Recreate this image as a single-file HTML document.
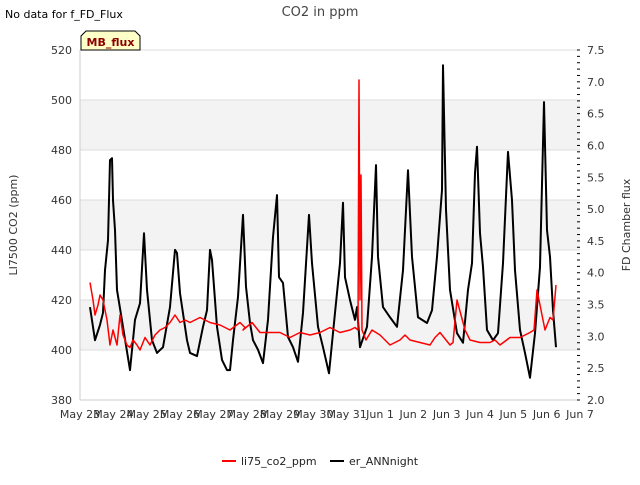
<!DOCTYPE html>
<html><head><meta charset="utf-8"><style>
body{margin:0;background:#fff;font-family:"Liberation Sans","DejaVu Sans",sans-serif}
svg text{font-family:"DejaVu Sans","Liberation Sans",sans-serif}
</style></head><body>
<svg id="chart" width="640" height="480" viewBox="0 0 640 480" xmlns="http://www.w3.org/2000/svg">
<text x="5" y="18" font-size="11" fill="#000">No data for f_FD_Flux</text>
<text x="320" y="16" font-size="13" fill="#444" text-anchor="middle">CO2 in ppm</text>
<g id="grid"></g>
<g id="axes"></g>
<g id="series"></g>
<g>
<path d="M81,50 L81,36 L86,31 L135,31 L140,36 L140,50 Z" fill="#ffffc8" stroke="#000" stroke-width="1"/>
<text x="110.5" y="46" font-size="11" font-weight="bold" fill="#8b0000" text-anchor="middle">MB_flux</text>
</g>
<text transform="translate(17,225) rotate(-90)" font-size="11" fill="#333" text-anchor="middle">LI7500 CO2 (ppm)</text>
<text transform="translate(630,225) rotate(-90)" font-size="11" fill="#333" text-anchor="middle">FD Chamber flux</text>
<g>
<g><line x1="222" y1="461" x2="236" y2="461" stroke="#f00" stroke-width="2"/><text x="241" y="465" font-size="11" fill="#222">li75_co2_ppm</text></g>
<g><line x1="330" y1="461" x2="344" y2="461" stroke="#000" stroke-width="2"/><text x="349" y="465" font-size="11" fill="#222">er_ANNnight</text></g>
</g>
</svg>
<script>
const xTickLabels=["May 23","May 24","May 25","May 26","May 27","May 28","May 29","May 30","May 31","Jun 1","Jun 2","Jun 3","Jun 4","Jun 5","Jun 6","Jun 7"];
const leftTicks=[380,400,420,440,460,480,500,520];
const rightTicks=[2.0,2.5,3.0,3.5,4.0,4.5,5.0,5.5,6.0,6.5,7.0,7.5];
const redT=[0.3,0.39,0.45,0.54,0.6,0.69,0.81,0.9,0.99,1.11,1.2,1.29,1.41,1.5,1.59,1.71,1.8,1.95,2.1,2.25,2.4,2.55,2.7,2.85,3.0,3.15,3.3,3.6,3.9,4.2,4.5,4.8,4.95,4.89,5.16,5.4,5.7,6.0,6.3,6.6,6.9,7.2,7.5,7.8,8.1,8.25,8.34,8.37,8.4,8.43,8.46,8.58,8.76,9.0,9.3,9.6,9.75,9.9,10.2,10.5,10.65,10.8,11.1,11.19,11.31,11.55,11.7,12.0,12.3,12.45,12.6,12.9,13.2,13.5,13.62,13.71,13.95,14.1,14.19,14.28];
const redV=[427,420,414,418,422,420,412,402,408,402,414,406,402,401,404,402,400,405,402,406,408,409,411,414,411,412,411,413,411,410,408,411,409,408,411,407,407,407,405,407,406,407,409,407,408,409,408,508,420,470,408,404,408,406,402,404,406,404,403,402,405,407,402,403,420,408,404,403,403,404,402,405,405,407,408,424,408,413,412,426,424];
const blackT=[0.3,0.45,0.6,0.69,0.75,0.84,0.9,0.96,0.99,1.05,1.11,1.29,1.5,1.65,1.8,1.92,2.01,2.16,2.31,2.49,2.7,2.85,2.91,3.0,3.21,3.3,3.51,3.69,3.81,3.9,3.96,4.11,4.26,4.41,4.5,4.59,4.74,4.89,4.98,5.1,5.19,5.34,5.49,5.64,5.79,5.91,5.97,6.09,6.24,6.39,6.54,6.69,6.87,6.96,7.14,7.29,7.47,7.65,7.8,7.89,7.95,8.1,8.25,8.31,8.4,8.61,8.76,8.88,8.94,9.09,9.3,9.51,9.69,9.84,9.96,10.14,10.41,10.56,10.71,10.86,10.89,10.98,11.1,11.31,11.49,11.64,11.76,11.85,11.91,12.0,12.09,12.21,12.39,12.54,12.69,12.84,12.96,13.05,13.2,13.35,13.5,13.65,13.8,13.92,14.01,14.1,14.19,14.28];
const blackV=[3.46,2.94,3.18,3.37,4.04,4.51,5.77,5.8,5.14,4.67,3.73,3.15,2.47,3.26,3.52,4.62,3.73,2.94,2.74,2.83,3.46,4.36,4.31,3.68,2.94,2.74,2.69,3.15,3.41,4.36,4.2,3.15,2.63,2.47,2.47,2.94,3.62,4.91,3.78,3.21,2.94,2.79,2.58,3.26,4.56,5.22,3.93,3.84,2.99,2.83,2.6,3.37,4.91,4.15,3.15,2.83,2.42,3.37,4.15,5.1,3.93,3.57,3.26,3.46,2.83,3.15,4.25,5.69,4.25,3.46,3.3,3.15,4.04,5.61,4.25,3.3,3.21,3.41,4.25,5.3,7.26,4.99,3.73,3.05,2.9,3.73,4.15,5.57,5.98,4.62,4.09,3.1,2.94,3.05,4.15,5.9,5.14,4.04,3.1,2.74,2.35,3.05,4.09,6.68,4.67,4.25,3.41,2.83];
const X0=80,X1=580,Y0=400,Y1=50;
const xS=t=>X0+t*(X1-X0)/15;
const yL=v=>Y0-(v-380)*(Y0-Y1)/140;
const yR=v=>Y0-(v-2)*(Y0-Y1)/5.5;
const NS="http://www.w3.org/2000/svg";
function mk(tag,attrs,parent){const e=document.createElementNS(NS,tag);for(const k in attrs)e.setAttribute(k,attrs[k]);parent.appendChild(e);return e;}
const grid=document.getElementById('grid'),axes=document.getElementById('axes'),series=document.getElementById('series');
for(let i=0;i<leftTicks.length-1;i++){
  if(i%2===1){const r=mk('rect',{x:X0,y:yL(leftTicks[i+1]),width:X1-X0,height:yL(leftTicks[i])-yL(leftTicks[i+1]),fill:'#f3f3f3'},grid);
  
  }
}
leftTicks.forEach(v=>{const l=mk('line',{x1:X0,x2:X1,y1:yL(v),y2:yL(v),stroke:'#dedede','stroke-width':1},grid);


const t=mk('text',{x:72,y:yL(v)+4,'font-size':11,fill:'#333','text-anchor':'end'},axes);t.textContent=v;

});
mk('line',{x1:X0,x2:X0,y1:Y1,y2:Y0,stroke:'#ccc'},axes);
mk('line',{x1:X0,x2:X1,y1:Y0,y2:Y0,stroke:'#ccc'},axes);
xTickLabels.forEach((s,i)=>{const t=mk('text',{x:xS(i),y:418,'font-size':11,fill:'#333','text-anchor':'middle'},axes);t.textContent=s;

});
for(let k=0;k<=55;k++){const v=2+k*0.1;const y=yR(v);mk('line',{x1:X1-3,x2:X1,y1:y,y2:y,stroke:'#000'},axes);}
rightTicks.forEach(v=>{const t=mk('text',{x:587,y:yR(v)+4,'font-size':11,fill:'#333'},axes);t.textContent=v.toFixed(1);

});
const bp=mk('polyline',{points:blackT.map((t,i)=>xS(t)+','+yR(blackV[i])).join(' '),fill:'none',stroke:'#000','stroke-width':2,'stroke-linejoin':'round'},series);


const rp=mk('polyline',{points:redT.map((t,i)=>xS(t)+','+yL(redV[i])).join(' '),fill:'none',stroke:'#f00','stroke-width':1.5,'stroke-linejoin':'round'},series);


</script>
</body></html>
